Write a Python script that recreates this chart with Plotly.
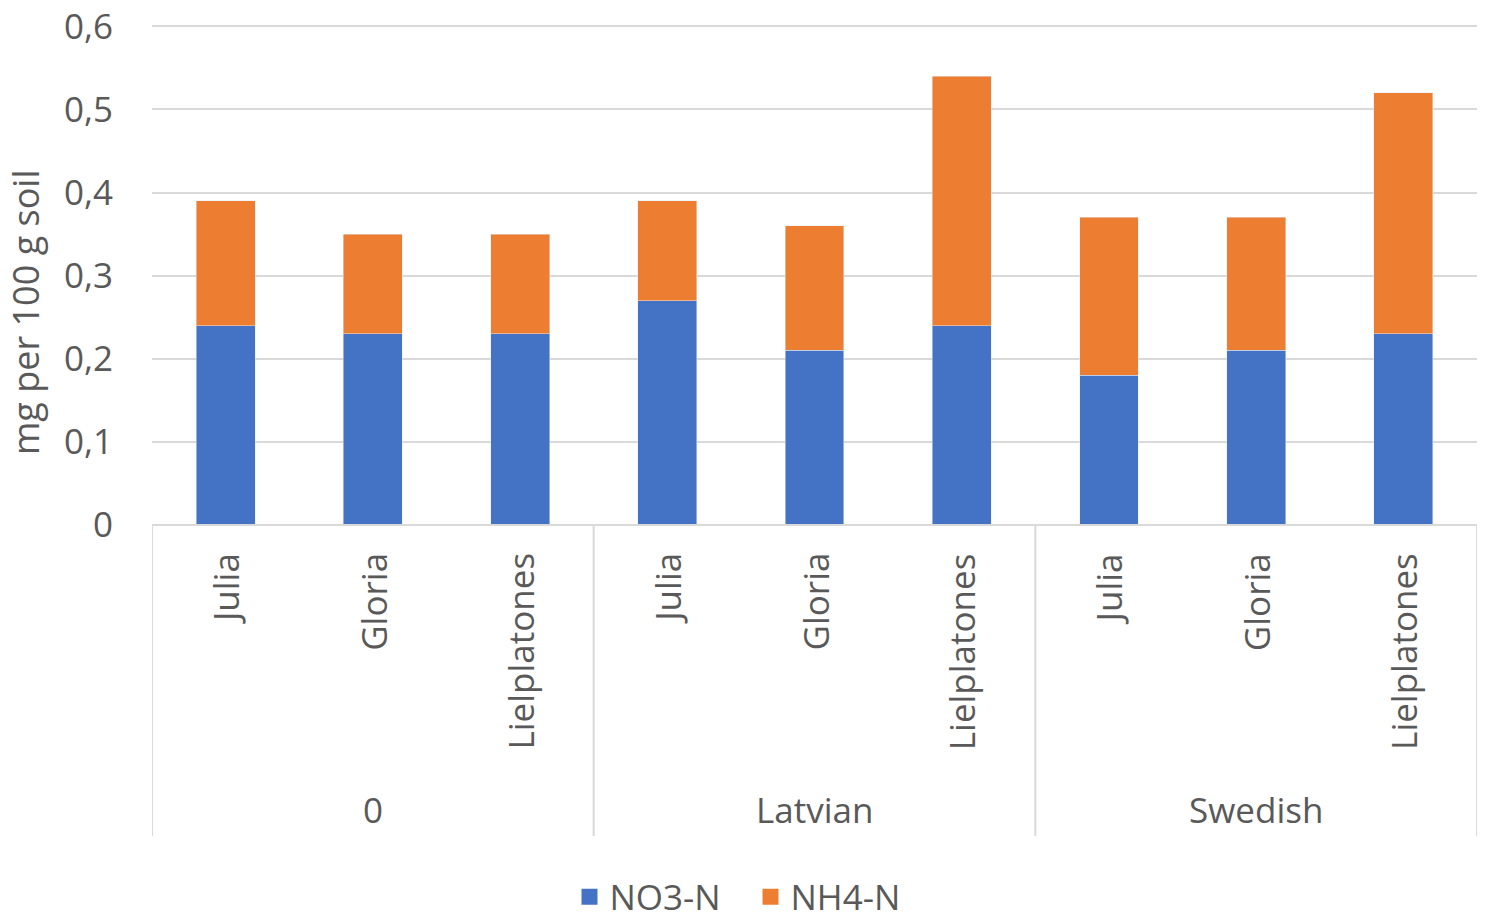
import plotly.graph_objects as go

groups = ["0", "Latvian", "Swedish"]
varieties = ["Julia", "Gloria", "Lielplatones"]
no3 = [0.24, 0.23, 0.23, 0.27, 0.21, 0.24, 0.18, 0.21, 0.23]
nh4 = [0.15, 0.12, 0.12, 0.12, 0.15, 0.30, 0.19, 0.16, 0.29]
yticks = [0, 0.1, 0.2, 0.3, 0.4, 0.5, 0.6]
series_names = ["NO3-N", "NH4-N"]
series_colors = ["#4472C4", "#ED7D31"]

n = len(groups) * len(varieties)
xs = list(range(n))
cat_labels = [v for g in groups for v in varieties]

FONT = "Open Sans"
TXT = "#595959"
GRID = "#d9d9d9"

fig = go.Figure()
for vals, name, col in zip([no3, nh4], series_names, series_colors):
    fig.add_trace(go.Bar(x=xs, y=vals, name=name, marker_color=col, width=0.4, showlegend=False))
# legend-only entries with larger square swatches
for name, col in zip(series_names, series_colors):
    fig.add_trace(go.Scatter(x=[None], y=[None], mode="markers", name=name,
                             marker=dict(symbol="square", size=21, color=col)))

H = 500  # plot height in px used for paper conversions
W = 1477 - 152
annotations = []
for i, lab in enumerate(cat_labels):
    annotations.append(dict(x=i, y=-26 / H, xref="x", yref="paper", text=lab,
                            textangle=-90, showarrow=False, xanchor="center", yanchor="top",
                            font=dict(family=FONT, size=35, color=TXT)))
for gi, g in enumerate(groups):
    annotations.append(dict(x=gi * len(varieties) + (len(varieties) - 1) / 2, y=-285 / H,
                            xref="x", yref="paper", text=g, showarrow=False,
                            xanchor="center", yanchor="middle",
                            font=dict(family=FONT, size=35, color=TXT)))
annotations.append(dict(x=(25 - 152) / W, y=(525 - 312) / H, xref="paper", yref="paper",
                        text="mg per 100 g soil", textangle=-90, showarrow=False,
                        xanchor="center", yanchor="middle",
                        font=dict(family=FONT, size=36, color=TXT)))

shapes = []
for k in range(len(groups) + 1):
    xb = k * len(varieties) - 0.5
    shapes.append(dict(type="line", xref="x", yref="paper", x0=xb, x1=xb, y0=0, y1=-311 / H,
                       line=dict(color=GRID, width=2)))
shapes.append(dict(type="line", xref="paper", yref="paper", x0=0, x1=1, y0=0, y1=0,
                   line=dict(color=GRID, width=2)))

fig.update_layout(
    width=1487, height=920,
    barmode="stack",
    separators=", ",
    plot_bgcolor="white", paper_bgcolor="white",
    margin=dict(l=152, r=10, t=25, b=395, autoexpand=False),
    font=dict(family=FONT, color=TXT),
    xaxis=dict(range=[-0.5, n - 0.5], showticklabels=False, showgrid=False, zeroline=False,
               showline=False, ticks=""),
    yaxis=dict(range=[0, 0.6015], tickvals=yticks, showgrid=True, gridcolor=GRID, gridwidth=2,
               zeroline=False, showline=False, ticklabelstandoff=38,
               tickfont=dict(family=FONT, size=35, color=TXT)),
    legend=dict(orientation="h", xref="container", yref="container", x=0.5047, xanchor="center",
                y=23 / 920, yanchor="middle", font=dict(family=FONT, size=35, color=TXT),
                itemwidth=30, entrywidth=136, entrywidthmode="pixels", traceorder="normal"),
    annotations=annotations,
    shapes=shapes,
    showlegend=True,
)

fig.write_html("out.html", config={"displayModeBar": False},
               post_script="document.body.style.margin='0px';")
